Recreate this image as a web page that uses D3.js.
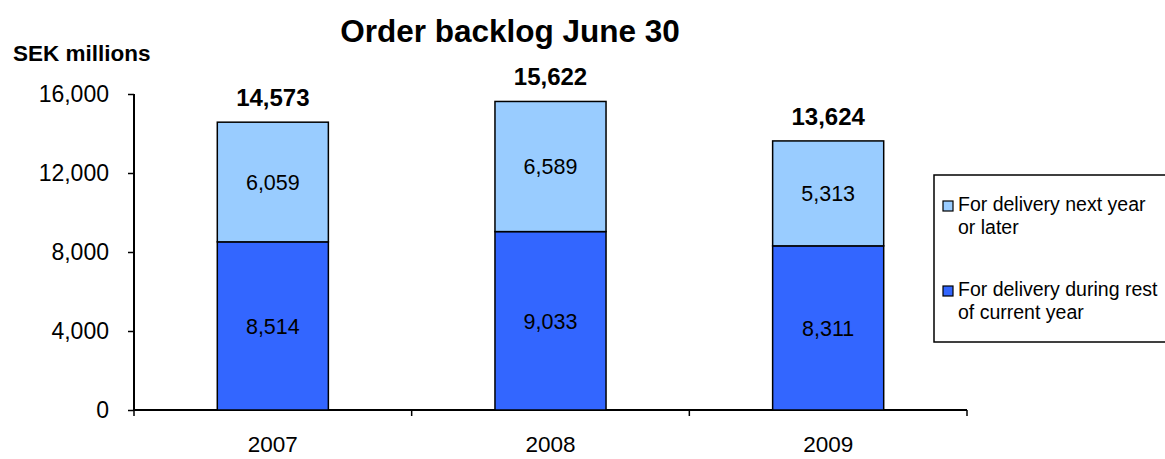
<!DOCTYPE html>
<html><head><meta charset="utf-8">
<script src="https://cdn.jsdelivr.net/npm/d3@7"></script>
<style>body{margin:0;background:#fff}svg{display:block;font-family:"Liberation Sans",Arial,sans-serif}</style>
</head><body>
<script>
const categories = ["2007", "2008", "2009"];
const currentYear = [8514, 9033, 8311];
const nextYear = [6059, 6589, 5313];
const totals = [14573, 15622, 13624];
const yTicks = [0, 4000, 8000, 12000, 16000];
const seriesNames = ["For delivery next year|or later", "For delivery during rest|of current year"];
const colors = {next: "#99CCFF", current: "#3366FF"};

const W = 1165, H = 459;
const svg = d3.select("body").append("svg").attr("width", W).attr("height", H);

const x = d3.scaleBand().domain(categories).range([134, 967]);
const y = d3.scaleLinear().domain([0, 16000]).range([410, 94]);
const fmt = d3.format(",");

svg.append("text").attr("x", 510).attr("y", 42).attr("text-anchor", "middle")
  .attr("font-size", 31.5).attr("font-weight", "bold").text("Order backlog June 30");
svg.append("text").attr("x", 13).attr("y", 61)
  .attr("font-size", 22.5).attr("font-weight", "bold").text("SEK millions");

// axes
const yAxis = svg.append("g").attr("transform", "translate(134,0)")
  .call(d3.axisLeft(y).tickValues(yTicks).tickFormat(fmt).tickSize(6).tickPadding(19));
yAxis.select(".domain").attr("stroke", "#000").attr("stroke-width", 2).attr("d", "M0,94V410");
yAxis.selectAll(".tick line").attr("stroke-width", 1.5);
yAxis.selectAll(".tick text").attr("font-size", 23).attr("font-family", "Liberation Sans, Arial").attr("fill", "#000");

const xAxis = svg.append("g").attr("transform", "translate(0,410)")
  .call(d3.axisBottom(x).tickSize(0).tickPadding(26));
xAxis.select(".domain").attr("stroke", "#000").attr("stroke-width", 2).attr("d", "M134,0H967");
xAxis.selectAll(".tick text").attr("font-size", 22.5).attr("font-family", "Liberation Sans, Arial").attr("fill", "#000");
const bounds = [x.range()[0]].concat(categories.map(c => x(c) + x.bandwidth()));
svg.append("g").selectAll("line").data(bounds).join("line")
  .attr("x1", d => d).attr("x2", d => d).attr("y1", 410).attr("y2", 416)
  .attr("stroke", "#000").attr("stroke-width", 1.5);

const bw = x.bandwidth() * 0.4;
const g = svg.append("g");
categories.forEach((c, i) => {
  const cx = x(c) + x.bandwidth() / 2;
  g.append("rect").attr("x", cx - bw / 2).attr("width", bw)
    .attr("y", y(currentYear[i])).attr("height", y(0) - y(currentYear[i]))
    .attr("fill", colors.current).attr("stroke", "#000").attr("stroke-width", 1.5);
  g.append("rect").attr("x", cx - bw / 2).attr("width", bw)
    .attr("y", y(currentYear[i] + nextYear[i])).attr("height", y(currentYear[i]) - y(currentYear[i] + nextYear[i]))
    .attr("fill", colors.next).attr("stroke", "#000").attr("stroke-width", 1.5);
  g.append("text").attr("x", cx).attr("y", (y(0) + y(currentYear[i])) / 2).attr("dy", "0.36em")
    .attr("text-anchor", "middle").attr("font-size", 21.5).text(fmt(currentYear[i]));
  g.append("text").attr("x", cx).attr("y", (y(currentYear[i]) + y(currentYear[i] + nextYear[i])) / 2).attr("dy", "0.36em")
    .attr("text-anchor", "middle").attr("font-size", 21.5).text(fmt(nextYear[i]));
  g.append("text").attr("x", cx).attr("y", y(totals[i]) - 16)
    .attr("text-anchor", "middle").attr("font-size", 24).attr("font-weight", "bold").text(fmt(totals[i]));
});

// legend
const lg = svg.append("g");
lg.append("rect").attr("x", 934).attr("y", 175).attr("width", 240).attr("height", 167)
  .attr("fill", "#fff").attr("stroke", "#000").attr("stroke-width", 1.5);
const legendItems = [{name: seriesNames[0], color: colors.next, y: 211}, {name: seriesNames[1], color: colors.current, y: 296}];
legendItems.forEach(it => {
  lg.append("rect").attr("x", 943).attr("y", it.y - 10).attr("width", 10).attr("height", 10)
    .attr("fill", it.color).attr("stroke", "#000").attr("stroke-width", 1.2);
  const parts = it.name.split("|");
  parts.forEach((p, k) => {
    lg.append("text").attr("x", 958).attr("y", it.y + k * 23).attr("font-size", 19.5).text(p);
  });
});
</script>
</body></html>
